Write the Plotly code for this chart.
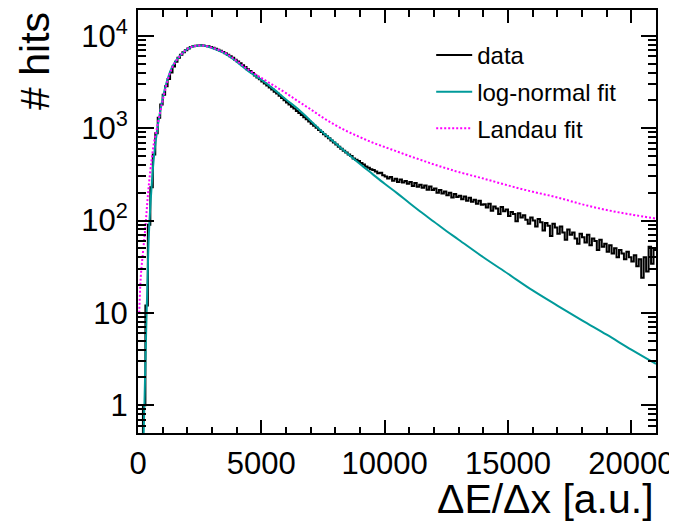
import plotly.graph_objects as go

# histogram: 100 wide bins from 0 to 21000, counts per bin
bin_width = 100
data_counts = [
    0, 0, 1, 12, 90, 230, 520, 880, 1300, 1800,
    2300, 2850, 3400, 4000, 4650, 5250, 5800, 6250, 6650, 7000,
    7300, 7550, 7700, 7820, 7880, 7900, 7850, 7780, 7700, 7560,
    7420, 7250, 7080, 6880, 6680, 6480, 6250, 6000, 5780, 5520,
    5280, 5050, 4800, 4600, 4350, 4150, 3950, 3720, 3550, 3380,
    3200, 3050, 2900, 2760, 2620, 2480, 2370, 2250, 2120, 2010,
    1900, 1810, 1710, 1630, 1540, 1460, 1390, 1310, 1250, 1180,
    1120, 1060, 1010, 955, 910, 860, 820, 780, 735, 700,
    665, 630, 600, 570, 545, 520, 500, 470, 455, 440,
    420, 405, 385, 372, 360, 352, 340, 325, 330, 310,
    300, 285, 296, 270, 284, 262, 278, 258, 268, 250,
    262, 236, 255, 232, 244, 226, 240, 216, 234, 214,
    222, 200, 214, 196, 206, 188, 200, 178, 194, 180,
    186, 170, 182, 164, 176, 160, 168, 152, 164, 148,
    150, 138, 152, 128, 142, 135, 118, 140, 126, 132,
    112, 124, 118, 98, 120, 108, 114, 102, 92, 108,
    100, 86, 104, 96, 78, 94, 88, 68, 92, 84,
    72, 86, 74, 62, 80, 70, 74, 64, 56, 72,
    66, 58, 70, 54, 64, 60, 48, 62, 52, 56,
    46, 54, 44, 50, 40, 48, 44, 38, 46, 40,
    36, 42, 32, 38, 24, 40, 28, 52, 34, 48,
]

# log-normal fit
lognorm_x = [220, 270, 350, 450, 550, 650, 800, 1000, 1200, 1400, 1700, 2000, 2300, 2600,
             3000, 3500, 4000, 4500, 5000, 5500, 6000, 6500, 7000, 7500, 8000, 8500,
             9000, 9500, 10000, 10500, 11000, 11500, 12000, 12500, 13000, 14000,
             15000, 16000, 17000, 18000, 19000, 20000, 21000]
lognorm_y = [0.4, 1.3, 10, 80, 230, 500, 1050, 2100, 3400, 4700, 6100, 7200, 7750, 7850,
             7400, 6500, 5250, 4100, 3350, 2650, 2050, 1600, 1200, 900, 690, 530,
             410, 320, 250, 198, 155, 122, 97, 77, 62, 40,
             26.5, 17.5, 12, 8.3, 5.8, 4.0, 2.8]

# Landau fit
landau_x = [50, 110, 200, 300, 380, 450, 550, 650, 750, 900, 1000, 1200, 1400, 1700, 2000,
            2300, 2600, 3000, 3500, 4000, 4500, 5000, 5500, 6000, 6500, 7000, 7500,
            8000, 8500, 9000, 9500, 10000, 10500, 11000, 11500, 12000, 12500, 13000,
            14000, 15000, 16000, 17000, 18000, 19000, 20000, 21000]
landau_y = [10, 24, 45, 85, 160, 260, 450, 700, 950, 1500, 2000, 3300, 4600, 6050, 7200,
            7750, 7870, 7450, 6600, 5350, 4250, 3500, 2900, 2400, 1950, 1600, 1300,
            1080, 920, 800, 700, 625, 560, 500, 450, 405, 368, 335,
            285, 240, 205, 178, 150, 130, 116, 105]

y_tickvals = [1, 10, 100, 1000, 10000]
y_ticktext = ["1", "10", "10<sup>2</sup>", "10<sup>3</sup>", "10<sup>4</sup>"]
x_tickvals = [0, 5000, 10000, 15000, 20000]
x_ticktext = ["0", "5000", "10000", "15000", "20000"]

# step outline like ROOT: empty bins drop to the bottom of the frame
edges = [i * bin_width for i in range(len(data_counts) + 1)]
step_y = [c if c > 0 else 0.1 for c in data_counts] + [data_counts[-1]]

font = "Liberation Sans, Arial, sans-serif"

fig = go.Figure()
fig.add_trace(go.Scatter(x=edges, y=step_y, mode='lines', name='data',
                         line=dict(color='black', width=2, shape='hv'),
                         legendgroup='a'))
fig.add_trace(go.Scatter(x=lognorm_x, y=lognorm_y, mode='lines', name='log-normal fit',
                         line=dict(color='#009a9a', width=2, shape='spline'),
                         legendgroup='b'))
fig.add_trace(go.Scatter(x=landau_x, y=landau_y, mode='lines', name='Landau fit',
                         line=dict(color='#ff00ff', width=2, shape='spline', dash='2px,2px'),
                         legendgroup='c'))

fig.update_xaxes(range=[0, 21000], tickvals=x_tickvals, ticktext=x_ticktext,
                 ticks='inside', ticklen=13,
                 tickwidth=1.5, tickcolor='black', showline=True, linecolor='black',
                 linewidth=2, mirror='allticks', showgrid=False, zeroline=False,
                 tickfont=dict(size=31, color='black', family=font),
                 ticklabelstandoff=2,
                 minor=dict(dtick=1000, ticks='inside', ticklen=6.5, tickwidth=1.5,
                            tickcolor='black', showgrid=False))
fig.update_yaxes(type='log', range=[-0.301, 4.28], tickvals=y_tickvals, ticktext=y_ticktext,
                 ticks='inside', ticklen=15.5, tickwidth=1.5, tickcolor='black',
                 showline=True, linecolor='black', linewidth=2, mirror='allticks',
                 showgrid=False, zeroline=False,
                 tickfont=dict(size=31, color='black', family=font),
                 ticklabelstandoff=2,
                 minor=dict(dtick='D1', ticks='inside', ticklen=8, tickwidth=1.5,
                            tickcolor='black', showgrid=False))

fig.add_annotation(text="ΔE/Δx [a.u.]", xref='paper', yref='paper', x=1.0, y=-0.155,
                   xanchor='right', yanchor='middle', showarrow=False,
                   font=dict(size=41, color='black', family=font))
fig.add_annotation(text="# hits", xref='paper', yref='paper', x=-0.199, y=1.0,
                   xanchor='center', yanchor='top', textangle=-90, showarrow=False,
                   font=dict(size=41, color='black', family=font))

# page body adds an 8px offset, margins compensate for it
fig.update_layout(width=677, height=530, margin=dict(l=130, r=29, t=0, b=105),
                  paper_bgcolor='white', plot_bgcolor='white',
                  legend=dict(x=0.566, y=0.946, xanchor='left', yanchor='top',
                              bgcolor='rgba(0,0,0,0)', tracegroupgap=2.5, itemwidth=36,
                              font=dict(size=24, color='black', family=font)))

fig.write_html("out.html")
